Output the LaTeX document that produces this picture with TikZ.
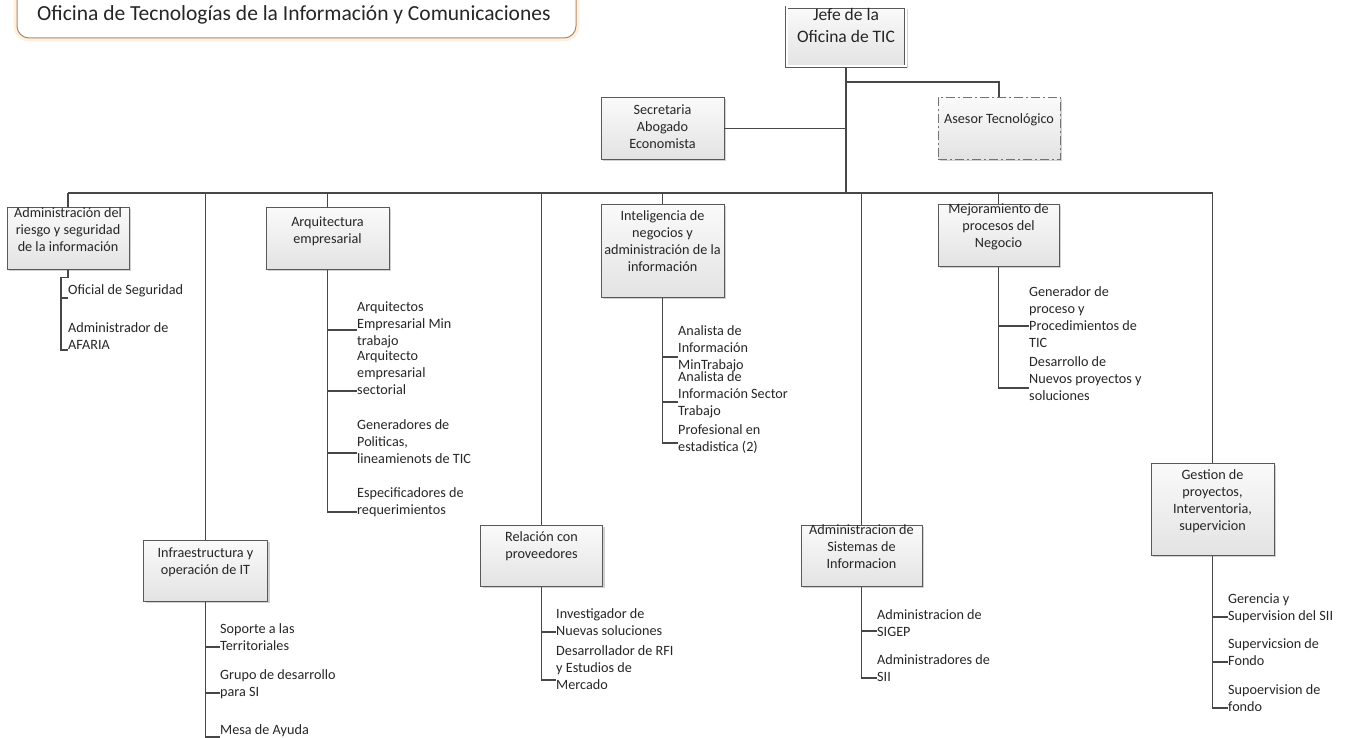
\documentclass[tikz,border=0pt]{standalone}
\usepackage{fontspec}
\setmainfont{Carlito}
\usetikzlibrary{shadows,calc}
% stacked lines, baseline on the first line
\newcommand\stack[2][l]{\begin{tabular}[t]{@{}#1@{}}#2\end{tabular}}

\begin{document}
\begin{tikzpicture}[x=1pt,y=-1pt,
  every node/.style={font=\fontsize{14.2}{17}\selectfont, text=black!85},
  link/.style={draw=black!72, line width=1.1pt},
  unit/.style={draw=black!65, line width=0.9pt, top color=black!2, bottom color=black!11,
    drop shadow={shadow xshift=2pt, shadow yshift=-2pt, fill=black!30, opacity=0.6},
    inner sep=0pt, anchor=north},
  role/.style={inner sep=0pt, anchor=base west},
]
\useasboundingbox (0,0) rectangle (1351,738);

% ---- title banner ----
\draw[rounded corners=12pt, draw=orange!25, line width=7pt, opacity=0.5]
  (17,-5) -- (17,38) -- (576,38) -- (576,-5);
\draw[rounded corners=12pt, draw=brown!70!black!70, line width=1pt, fill=white]
  (17,-5) -- (17,38) -- (576,38) -- (576,-5);
\node[role, font=\fontsize{21.5}{25}\selectfont] (title) at (37,21)
  {Oficina de Tecnologías de la Información y Comunicaciones};

% ---- head and staff ----
\node[unit, double=white, double distance=2pt, line width=0.8pt,
  minimum width=119pt, text height=13pt, text depth=46pt,
  font=\fontsize{17.5}{22}\selectfont] (jefe) at (846,7)
  {\stack[c]{Jefe de la\\Oficina de TIC}};
\node[unit, minimum width=123pt, text height=17pt, text depth=45pt] (sec) at (662.5,97)
  {\stack[c]{Secretaria\\Abogado\\Economista}};
\node[unit, draw=black!55, dash pattern=on 9pt off 3pt on 2pt off 3pt,
  minimum width=122pt, text height=26pt, text depth=36pt] (ases) at (999,97)
  {Asesor Tecnológico};

% ---- areas ----
\node[unit, minimum width=122pt, text height=10pt, text depth=52pt] (ar) at (68,207)
  {\stack[c]{Administración del\\riesgo y seguridad\\de la información}};
\node[unit, minimum width=124pt, text height=17pt, text depth=44pt] (infra) at (205.5,540)
  {\stack[c]{Infraestructura y\\operación de IT}};
\node[unit, minimum width=123pt, text height=19pt, text depth=43pt] (aq) at (327.5,207)
  {\stack[c]{Arquitectura\\empresarial}};
\node[unit, minimum width=122pt, text height=16pt, text depth=45pt] (rp) at (541.5,525)
  {\stack[c]{Relación con\\proveedores}};
\node[unit, minimum width=123pt, text height=16pt, text depth=77pt] (ig) at (662.5,204)
  {\stack[c]{Inteligencia de\\negocios y\\administración de la\\información}};
\node[unit, minimum width=121pt, text height=9pt, text depth=52pt] (asis) at (861.5,525)
  {\stack[c]{Administracion de\\Sistemas de\\Informacion}};
\node[unit, minimum width=121pt, text height=9pt, text depth=53pt] (mj) at (998.5,204)
  {\stack[c]{Mejoramiento de\\procesos del\\Negocio}};
\node[unit, minimum width=123pt, text height=16pt, text depth=76pt] (gs) at (1212.5,463)
  {\stack[c]{Gestion de\\proyectos,\\Interventoria,\\supervicion}};

% ---- roles ----
\node[role] (ar1) at (68,294) {Oficial de Seguridad};
\node[role] (ar2) at (68,332) {\stack{Administrador de\\AFARIA}};

\node[role] (in1) at (220,633) {\stack{Soporte a las\\Territoriales}};
\node[role] (in2) at (220,679) {\stack{Grupo de desarrollo\\para SI}};
\node[role] (in3) at (220,734) {Mesa de Ayuda};

\node[role] (aq1) at (357,311) {\stack{Arquitectos\\Empresarial Min\\trabajo}};
\node[role] (aq2) at (357,360) {\stack{Arquitecto\\empresarial\\sectorial}};
\node[role] (aq3) at (357,429) {\stack{Generadores de\\Politicas,\\lineamienots de TIC}};
\node[role] (aq4) at (357,497) {\stack{Especificadores de\\requerimientos}};

\node[role] (rp1) at (556,618) {\stack{Investigador de\\Nuevas soluciones}};
\node[role] (rp2) at (556,655) {\stack{Desarrollador de RFI\\y Estudios de\\Mercado}};

\node[role] (ig1) at (678,335) {\stack{Analista de\\Información\\MinTrabajo}};
\node[role] (ig2) at (678,381) {\stack{Analista de\\Información Sector\\Trabajo}};
\node[role] (ig3) at (678,434) {\stack{Profesional en\\estadistica (2)}};

\node[role] (as1) at (877,619) {\stack{Administracion de\\SIGEP}};
\node[role] (as2) at (877,664) {\stack{Administradores de\\SII}};

\node[role] (mj1) at (1029,296) {\stack{Generador de\\proceso y\\Procedimientos de\\TIC}};
\node[role] (mj2) at (1029,366) {\stack{Desarrollo de\\Nuevos proyectos y\\soluciones}};

\node[role] (gs1) at (1228,603) {\stack{Gerencia y\\Supervision del SII}};
\node[role] (gs2) at (1228,648) {\stack{Supervicsion de\\Fondo}};
\node[role] (gs3) at (1228,694) {\stack{Supoervision de\\fondo}};

% ---- connectors: head, staff and areas ----
\coordinate (hub) at (jefe.south |- 0,193);
\draw[link] (jefe.south) -- (hub);
\draw[link] (sec.east) -- (sec.east -| jefe.south);
\draw[link] (jefe.south |- 0,82) -| (ases.north);
\draw[link] (ar.north |- hub) -- (gs.north |- hub);
\foreach \n in {ar,infra,aq,rp,ig,asis,mj,gs}
  \draw[link] (\n.north |- hub) -- (\n.north);

% ---- connectors: areas to roles ----
\coordinate (arstem) at ($(ar.south)+(-7,8)$);
\draw[link] (ar.south) -- ($(ar.south)+(0,8)$) -- (arstem) |- (ar2.west |- 0,350);
\draw[link] (arstem |- 0,298) -- (ar1.west |- 0,298);

\draw[link] (infra.south) |- (in3.west |- 0,737);
\draw[link] (infra.south |- 0,647) -- (in1.west |- 0,647);
\draw[link] (infra.south |- 0,693) -- (in2.west |- 0,693);

\draw[link] (aq.south) |- (aq4.west |- 0,512);
\draw[link] (aq.south |- 0,330) -- (aq1.west |- 0,330);
\draw[link] (aq.south |- 0,391) -- (aq2.west |- 0,391);
\draw[link] (aq.south |- 0,453) -- (aq3.west |- 0,453);

\draw[link] (rp.south) |- (rp2.west |- 0,680);
\draw[link] (rp.south |- 0,632) -- (rp1.west |- 0,632);

\draw[link] (ig.south) |- (ig3.west |- 0,443);
\draw[link] (ig.south |- 0,357) -- (ig1.west |- 0,357);
\draw[link] (ig.south |- 0,402) -- (ig2.west |- 0,402);

\draw[link] (asis.south) |- (as2.west |- 0,678);
\draw[link] (asis.south |- 0,631) -- (as1.west |- 0,631);

\draw[link] (mj.south) |- (mj2.west |- 0,388);
\draw[link] (mj.south |- 0,326) -- (mj1.west |- 0,326);

\draw[link] (gs.south) |- (gs3.west |- 0,708);
\draw[link] (gs.south |- 0,617) -- (gs1.west |- 0,617);
\draw[link] (gs.south |- 0,662) -- (gs2.west |- 0,662);
\end{tikzpicture}
\end{document}
